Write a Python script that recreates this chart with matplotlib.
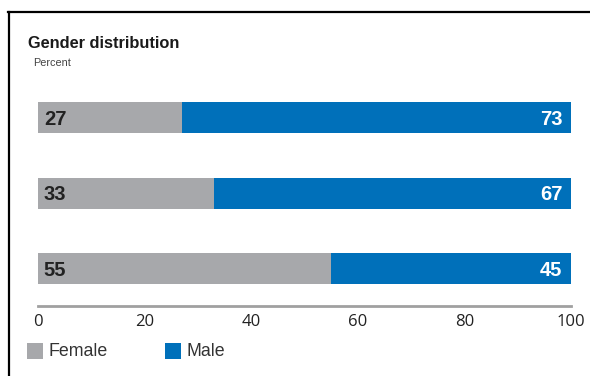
import matplotlib
matplotlib.use("Agg")
import matplotlib.pyplot as plt
from matplotlib.patches import Rectangle
from matplotlib.lines import Line2D

categories = ["Group 1", "Group 2", "Group 3"]
female = [27, 33, 55]
male = [73, 67, 45]
xticks = [0, 20, 40, 60, 80, 100]
series_names = ["Female", "Male"]

GRAY = "#A7A8AB"
BLUE = "#0070BA"

W, H = 590, 376
fig = plt.figure(figsize=(W / 100, H / 100), dpi=100)

def fx(px):
    return px / W

def fy(py):
    return 1 - py / H

# Axes placement
left, right = 38, 571
top, bottom = 80, 306
ax = fig.add_axes([fx(left), fy(bottom), fx(right) - fx(left), fy(top) - fy(bottom)])

ypos = [2, 1, 0]
bh = 0.41
ax.barh(ypos, female, height=bh, color=GRAY, edgecolor="none")
ax.barh(ypos, male, left=female, height=bh, color=BLUE, edgecolor="none")

for y, f, m in zip(ypos, female, male):
    ax.text(1.1, y - 0.02, str(f), ha="left", va="center", fontsize=14.5, fontweight="bold",
            color="#222222", family="Liberation Sans")
    ax.text(100 - 1.6, y - 0.02, str(m), ha="right", va="center", fontsize=14.5, fontweight="bold",
            color="white", family="Liberation Sans")

ax.set_xlim(0, 100)
ax.set_ylim(-0.49, 2.5)
ax.set_xticks(xticks)
ax.set_xticklabels([str(t) for t in xticks], fontsize=12, color="#222222", family="Open Sans")
ax.tick_params(axis="x", length=0, pad=6)
ax.set_yticks([])
for s in ["top", "right", "left"]:
    ax.spines[s].set_visible(False)
ax.spines["bottom"].set_color("#A0A0A0")
ax.spines["bottom"].set_linewidth(2)

# Title and subtitle
fig.text(fx(28), fy(43), "Gender distribution", fontsize=11.8, fontweight="bold",
         color="#1a1a1a", family="Liberation Sans", va="center", ha="left")
fig.text(fx(33), fy(63), "Percent", fontsize=7.8, color="#444444",
         family="Liberation Sans", va="center", ha="left")

# Legend
legend_items = [(27, series_names[0], GRAY), (165, series_names[1], BLUE)]
for x0, name, col in legend_items:
    fig.patches.append(Rectangle((fx(x0), fy(359)), fx(16), 16 / H, transform=fig.transFigure,
                                 facecolor=col, edgecolor="none"))
    fig.text(fx(x0 + 21), fy(352), name, fontsize=12.8, color="#333333",
             family="Liberation Sans", va="center", ha="left")

# Border lines (top and left)
fig.add_artist(Line2D([fx(8), 1], [fy(12), fy(12)], transform=fig.transFigure,
                      color="black", linewidth=1.6))
fig.add_artist(Line2D([fx(9), fx(9)], [fy(12), 0], transform=fig.transFigure,
                      color="black", linewidth=1.6))

fig.savefig("out.png", dpi=100)
